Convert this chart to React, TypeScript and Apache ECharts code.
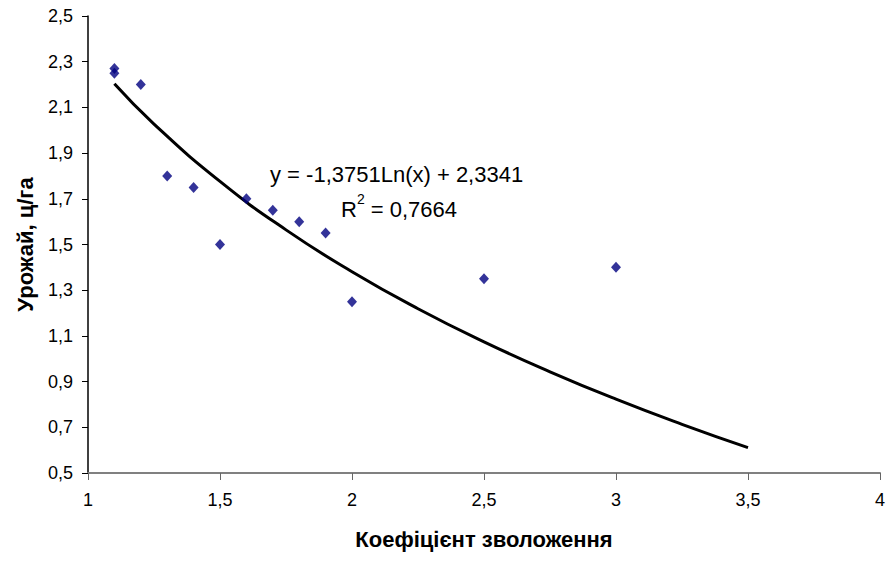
import React, { useEffect, useRef } from "react";
import * as echarts from "echarts";

const pointX = [1.1, 1.1, 1.2, 1.3, 1.4, 1.5, 1.6, 1.7, 1.8, 1.9, 2.0, 2.5, 3.0];
const pointY = [2.27, 2.25, 2.2, 1.8, 1.75, 1.5, 1.7, 1.65, 1.6, 1.55, 1.25, 1.35, 1.4];

const trendX = [1.1, 1.25, 1.5, 1.75, 2.0, 2.25, 2.5, 2.75, 3.0, 3.25, 3.5];
const trendY = [2.203, 2.027, 1.776, 1.564, 1.381, 1.219, 1.074, 0.943, 0.823, 0.713, 0.611];

const yTicks = [0.5, 0.7, 0.9, 1.1, 1.3, 1.5, 1.7, 1.9, 2.1, 2.3, 2.5];
const xTicks = [1, 1.5, 2, 2.5, 3, 3.5, 4];

const equationText = "y = -1,3751Ln(x) + 2,3341";
const r2Value = "0,7664";

const fmt = (v: number) => String(Math.round(v * 10) / 10).replace(".", ",");

export default function App() {
  const ref = useRef<HTMLDivElement>(null);
  useEffect(() => {
    if (!ref.current) return;
    const chart = echarts.init(ref.current, undefined, { renderer: "svg" });
    const font = "Liberation Sans, Arial, sans-serif";
    chart.setOption({
      animation: false,
      backgroundColor: "#ffffff",
      grid: { left: 88, right: 10, top: 16, bottom: 88 },
      xAxis: {
        type: "value",
        min: xTicks[0],
        max: xTicks[xTicks.length - 1],
        interval: 0.5,
        name: "Коефіцієнт зволоження",
        nameLocation: "middle",
        nameGap: 55,
        nameTextStyle: { fontFamily: font, fontSize: 22, fontWeight: "bold", color: "#000" },
        axisLine: { show: true, lineStyle: { color: "#808080", width: 2 } },
        axisTick: { show: true, length: 7, lineStyle: { color: "#666", width: 1 } },
        axisLabel: { fontFamily: font, fontSize: 18, color: "#000", margin: 18, formatter: (v: number) => fmt(v) },
        splitLine: { show: false },
      },
      yAxis: {
        type: "value",
        min: yTicks[0],
        max: yTicks[yTicks.length - 1],
        interval: 0.2,
        name: "Урожай, ц/га",
        nameLocation: "middle",
        nameGap: 52,
        nameTextStyle: { fontFamily: font, fontSize: 22, fontWeight: "bold", color: "#000" },
        axisLine: { show: true, onZero: false, lineStyle: { color: "#000", width: 1.5 } },
        axisTick: { show: true, length: 6, lineStyle: { color: "#000" } },
        axisLabel: { fontFamily: font, fontSize: 18, color: "#000", margin: 15, formatter: (v: number) => fmt(v) },
        splitLine: { show: false },
      },
      series: [
        {
          type: "line",
          data: trendX.map((x, i) => [x, trendY[i]]),
          smooth: true,
          showSymbol: false,
          lineStyle: { color: "#000", width: 3 },
          z: 2,
        },
        {
          type: "scatter",
          data: pointX.map((x, i) => [x, pointY[i]]),
          symbol: "diamond",
          symbolSize: [10, 11],
          itemStyle: { color: "#000080" },
          z: 3,
        },
      ],
      graphic: [
        {
          type: "text",
          left: 270,
          top: 163,
          style: { text: equationText, fontFamily: font, fontSize: 22, fill: "#000" },
        },
        {
          type: "text",
          left: 341,
          top: 192,
          style: {
            text: "{a|R}{s|2}{a| = " + r2Value + "}",
            rich: {
              a: { fontFamily: font, fontSize: 22, fill: "#000", color: "#000", verticalAlign: "bottom", lineHeight: 28 },
              s: { fontFamily: font, fontSize: 14, fill: "#000", color: "#000", verticalAlign: "top", lineHeight: 28, padding: [0, 0, 12, 0] },
            },
          },
        },
      ],
    });
    return () => chart.dispose();
  }, []);
  return <div ref={ref} style={{ width: 890, height: 561, position: "absolute", left: 0, top: 0 }} />;
}
